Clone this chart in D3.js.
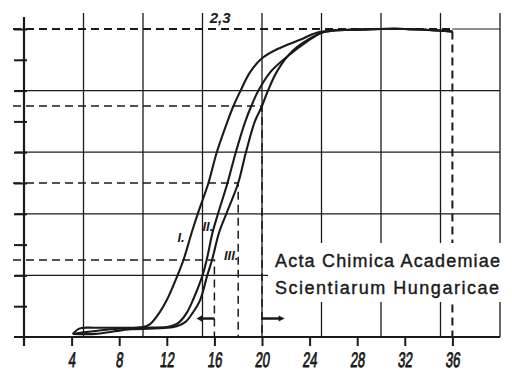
<!DOCTYPE html>
<html>
<head>
<meta charset="utf-8">
<script src="https://cdn.jsdelivr.net/npm/d3@7"></script>
<style>
  body { margin: 0; background: #fff; }
  svg { display: block; }
</style>
</head>
<body>
<svg id="chart" width="512" height="371"></svg>
<script>
// values (x = time, y = fraction in tenths)
var xTicks = [4, 8, 12, 16, 20, 24, 28, 32, 36]
var yTicks = [1, 2, 3, 4, 5, 6, 7, 8, 9, 10]
var gridX = [5, 10, 15, 20, 25, 30, 35, 40]
var gridY = [2, 4, 6, 8]
var levelY = [2.5, 5, 7.5, 10]
var levelX = [16, 18, 20, 36]

var curveI = [[4.1, 0.1], [4.7, 0.28], [6, 0.3], [8, 0.3], [10, 0.32], [10.6, 0.42], [11.4, 0.8], [12.0, 1.2],
  [12.9, 2.0], [13.4, 2.5], [14.1, 3.4], [14.6, 4.0], [15.5, 5.0], [16.2, 6.0], [17.1, 7.0], [17.6, 7.5],
  [18.2, 8.0], [19.0, 8.6], [20.0, 9.05], [21.3, 9.35], [23.2, 9.65], [24.6, 9.88], [26, 9.95], [28, 9.98],
  [30, 10.0], [32, 10.0], [34, 9.97], [36, 9.92]]
var curveII = [[4.1, 0.1], [5, 0.15], [6.5, 0.22], [8, 0.27], [10, 0.3], [12, 0.32], [12.6, 0.38], [13.1, 0.5],
  [13.7, 0.8], [14.2, 1.2], [15.0, 2.0], [15.35, 2.5], [15.85, 3.4], [16.3, 4.0], [17.1, 5.0], [17.8, 6.0],
  [18.6, 7.0], [19.1, 7.5], [19.7, 8.0], [20.7, 8.6], [22.1, 9.1], [23.8, 9.6], [25, 9.88], [26, 9.95],
  [28, 9.98], [30, 10.0], [32, 10.0], [34, 9.97], [36, 9.92]]
var curveIII = [[4.1, 0.1], [6, 0.1], [7.5, 0.18], [9, 0.25], [12, 0.3], [12.9, 0.36], [13.6, 0.5], [14.2, 0.8],
  [14.8, 1.2], [15.4, 2.0], [15.8, 2.5], [16.4, 3.4], [17.0, 4.0], [18.0, 5.0], [18.65, 6.0], [19.4, 7.0],
  [20.0, 7.5], [20.5, 8.0], [21.3, 8.65], [22.6, 9.3], [24.3, 9.75], [25.2, 9.9], [26, 9.95], [28, 9.98],
  [30, 10.0], [32, 10.0], [34, 9.97], [36, 9.92]]

var curveLabels = [["I.", 12.9, 3.1], ["II.", 15.0, 3.45], ["III.", 16.8, 2.5]]
var topLabel = "2,3"
var stamp = ["Acta Chimica Academiae", "Scientiarum Hungaricae"]

var ink = "#1a1a1a"
var svg = d3.select("#chart")

var x = d3.scaleLinear().domain([0, 40]).range([24, 500])
var y = d3.scaleLinear().domain([0, 10]).range([337, 29])

// graph paper grid
svg.selectAll(".gx")
  .data(gridX)
  .enter()
  .append("line")
  .attr("x1", d => x(d)).attr("x2", d => x(d))
  .attr("y1", 13).attr("y2", y(0))
  .attr("stroke", ink).attr("stroke-width", 1.3)

svg.selectAll(".gy")
  .data(gridY)
  .enter()
  .append("line")
  .attr("x1", x(0) - 9).attr("x2", x(40))
  .attr("y1", d => y(d)).attr("y2", d => y(d))
  .attr("stroke", ink).attr("stroke-width", 1.2)

// thin solid part of the top line right of the curves
svg.append("line")
  .attr("x1", x(36)).attr("x2", x(40))
  .attr("y1", y(10)).attr("y2", y(10))
  .attr("stroke", ink).attr("stroke-width", 1.2)

// dashed level lines for curve III
svg.selectAll(".lvl")
  .data(levelY)
  .enter()
  .append("path")
  .attr("d", (d, i) => "M" + (x(0) - 11) + "," + y(d) + "H" + x(levelX[i]) + "V" + y(0))
  .attr("fill", "none")
  .attr("stroke", ink)
  .attr("stroke-width", (d, i) => i == 3 ? 2 : 1.5)
  .attr("stroke-dasharray", "8,5")

// axes
var xAxis = svg.append("g")
  .attr("transform", "translate(0," + y(0) + ")")
  .call(d3.axisBottom(x).tickValues(xTicks).tickSize(9).tickFormat(""))
xAxis.select(".domain").remove()
xAxis.selectAll("line").attr("stroke", ink).attr("stroke-width", 2)

svg.append("line")
  .attr("x1", 14).attr("x2", x(40))
  .attr("y1", y(0)).attr("y2", y(0))
  .attr("stroke", ink).attr("stroke-width", 2.2)

var yAxis = svg.append("g")
  .attr("transform", "translate(" + x(0) + ",0)")
  .call(d3.axisLeft(y).tickValues(yTicks).tickSize(10).tickFormat(""))
yAxis.select(".domain").remove()
yAxis.selectAll("line").attr("stroke", ink).attr("stroke-width", 2).attr("x2", -10).attr("x1", 3)

svg.append("line")
  .attr("x1", x(0)).attr("x2", x(0))
  .attr("y1", 17).attr("y2", 346)
  .attr("stroke", ink).attr("stroke-width", 2.2)

// x tick labels, narrow italic like the hand lettering
svg.selectAll(".xl")
  .data(xTicks)
  .enter()
  .append("text")
  .attr("transform", d => "translate(" + x(d) + ",367) scale(0.62,1) skewX(-10)")
  .attr("text-anchor", "middle")
  .style("font-family", "'Liberation Sans', Arial, sans-serif")
  .style("font-size", "21px")
  .attr("fill", ink)
  .attr("stroke", ink).attr("stroke-width", 0.9)
  .text(d => d)

// white patch behind the journal stamp
svg.append("rect")
  .attr("x", 268).attr("y", 243)
  .attr("width", 240).attr("height", 59)
  .attr("fill", "#fff")

svg.selectAll(".stamp")
  .data(stamp)
  .enter()
  .append("text")
  .attr("x", 275)
  .attr("y", (d, i) => 267 + i * 27)
  .style("font-family", "'Liberation Sans', Arial, sans-serif")
  .style("font-size", "18px")
  .attr("fill", ink)
  .attr("stroke", ink).attr("stroke-width", 0.4)
  .attr("textLength", (d, i) => i == 0 ? 225 : 224)
  .text(d => d)

// the three curves
var line = d3.line()
  .x(d => x(d[0]))
  .y(d => y(d[1]))
  .curve(d3.curveCatmullRom.alpha(0.5))

svg.selectAll(".curve")
  .data([curveI, curveII, curveIII])
  .enter()
  .append("path")
  .attr("d", line)
  .attr("fill", "none")
  .attr("stroke", ink)
  .attr("stroke-width", 2.1)

// arrows near the base
svg.append("path")
  .attr("d", "M" + x(16) + "," + y(0.6) + "H" + x(14.7))
  .attr("stroke", ink).attr("stroke-width", 2.5)
svg.append("path")
  .attr("d", "M" + x(14.5) + "," + y(0.6) + "l6,-3.5v7z")
  .attr("fill", ink)
svg.append("path")
  .attr("d", "M" + x(20) + "," + y(0.6) + "H" + x(21.6))
  .attr("stroke", ink).attr("stroke-width", 2.5)
svg.append("path")
  .attr("d", "M" + x(21.9) + "," + y(0.6) + "l-6,-3v6z")
  .attr("fill", ink)

// curve labels
svg.selectAll(".cl")
  .data(curveLabels)
  .enter()
  .append("text")
  .attr("x", d => x(d[1]))
  .attr("y", d => y(d[2]))
  .style("font-family", "'Liberation Sans', Arial, sans-serif")
  .style("font-size", "13px")
  .style("font-style", "italic")
  .style("font-weight", "bold")
  .attr("fill", ink)
  .text(d => d[0])

svg.append("text")
  .attr("x", x(15.6))
  .attr("y", 23)
  .style("font-family", "'Liberation Sans', Arial, sans-serif")
  .style("font-size", "15px")
  .style("font-style", "italic")
  .style("font-weight", "bold")
  .attr("fill", ink)
  .text(topLabel)
</script>
</body>
</html>
